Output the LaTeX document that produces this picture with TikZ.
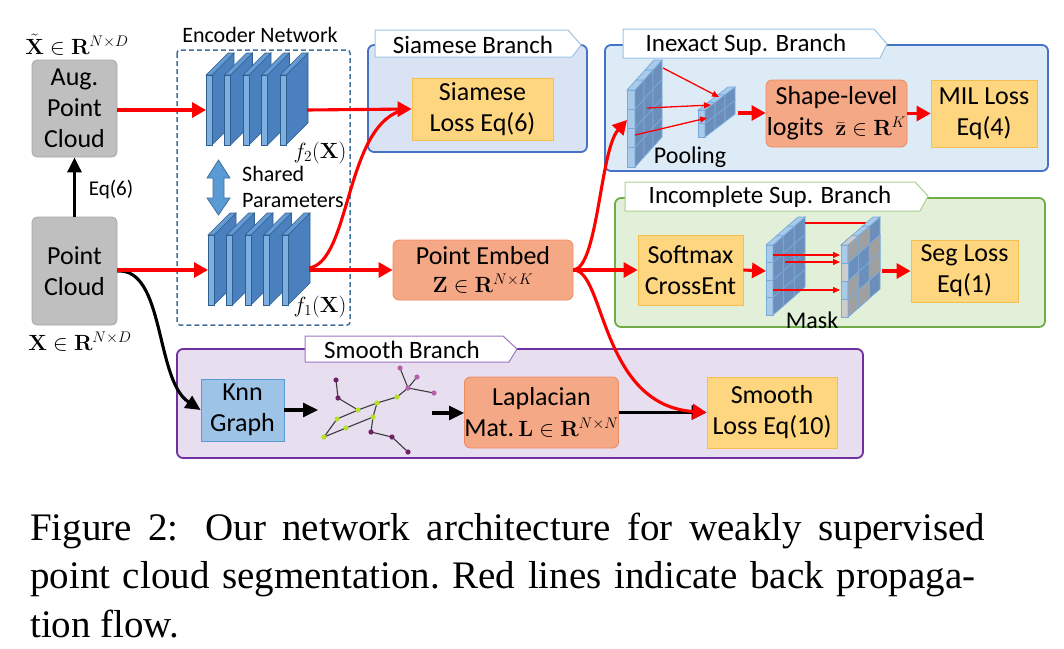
\RequirePackage{fix-cm}
\documentclass[tikz,border=0pt]{standalone}
\usepackage[no-math]{fontspec}
\setmainfont{Carlito}
\newfontfamily\capfont{Liberation Serif}
\usetikzlibrary{arrows.meta}
\definecolor{cred}{RGB}{255,0,0}
\definecolor{cgray}{RGB}{191,191,191}
\definecolor{cgrayd}{RGB}{166,166,166}
\definecolor{cyel}{RGB}{255,214,128}
\definecolor{cyeld}{RGB}{245,190,80}
\definecolor{csal}{RGB}{245,168,134}
\definecolor{csald}{RGB}{237,139,95}
\definecolor{cknn}{RGB}{157,195,230}
\definecolor{cknnd}{RGB}{91,155,213}
\definecolor{encd}{RGB}{65,113,156}
\definecolor{siamf}{RGB}{218,227,243}
\definecolor{bluep}{RGB}{68,114,196}
\definecolor{inexf}{RGB}{221,235,247}
\definecolor{incf}{RGB}{226,240,217}
\definecolor{incd}{RGB}{112,173,71}
\definecolor{smf}{RGB}{231,222,239}
\definecolor{smd}{RGB}{112,48,160}
\definecolor{tabblue}{RGB}{157,195,230}
\definecolor{tabgreen}{RGB}{169,209,142}
\definecolor{tabpurple}{RGB}{158,117,194}
\definecolor{slabfront}{RGB}{125,175,225}
\definecolor{slabtop}{RGB}{100,155,212}
\definecolor{slabside}{RGB}{74,128,190}
\definecolor{slabedge}{RGB}{47,95,143}
\definecolor{gfront}{RGB}{168,203,234}
\definecolor{gside}{RGB}{108,142,186}
\definecolor{gridln}{RGB}{120,170,220}
\definecolor{grfront}{RGB}{205,205,205}
\definecolor{grside}{RGB}{160,160,160}
\definecolor{gpurple}{RGB}{110,35,100}
\definecolor{gpink}{RGB}{180,95,170}
\definecolor{ggreen}{RGB}{180,225,40}
\definecolor{gedge}{RGB}{60,60,60}

\def\setgrid#1#2#3#4#5#6#7#8{%
 \def\Gx{#1}\def\Gty{#2}\def\Gby{#3}\def\Gw{#4}\def\Gdx{#5}\def\Gdy{#6}\def\Gn{#7}\def\Gm{#8}%
 \pgfmathsetmacro\Gh{(#3-#2)/#7}%
 \pgfmathtruncatemacro\Gnm{#7-1}\pgfmathtruncatemacro\Gmm{#8-1}}
\def\sidecell#1#2#3{\filldraw[fill=#3,draw=gridln,line width=0.7pt]
 ({\Gx+\Gw+(#2)*(\Gdx)/\Gm},{\Gty+(#1)*\Gh+(#2)*(\Gdy)/\Gm}) --
 ({\Gx+\Gw+(#2+1)*(\Gdx)/\Gm},{\Gty+(#1)*\Gh+(#2+1)*(\Gdy)/\Gm}) --
 ({\Gx+\Gw+(#2+1)*(\Gdx)/\Gm},{\Gty+(#1+1)*\Gh+(#2+1)*(\Gdy)/\Gm}) --
 ({\Gx+\Gw+(#2)*(\Gdx)/\Gm},{\Gty+(#1+1)*\Gh+(#2)*(\Gdy)/\Gm}) -- cycle;}
\def\frontcell#1#2{\filldraw[fill=#2,draw=gridln,line width=0.7pt]
 ({\Gx},{\Gty+(#1)*\Gh}) rectangle ({\Gx+\Gw},{\Gty+(#1+1)*\Gh});}
\def\topcell#1#2{\filldraw[fill=#2,draw=gridln,line width=0.7pt]
 ({\Gx+(#1)*(\Gdx)/\Gm},{\Gty+(#1)*(\Gdy)/\Gm}) --
 ({\Gx+\Gw+(#1)*(\Gdx)/\Gm},{\Gty+(#1)*(\Gdy)/\Gm}) --
 ({\Gx+\Gw+(#1+1)*(\Gdx)/\Gm},{\Gty+(#1+1)*(\Gdy)/\Gm}) --
 ({\Gx+(#1+1)*(\Gdx)/\Gm},{\Gty+(#1+1)*(\Gdy)/\Gm}) -- cycle;}
\def\drawgrid{\foreach \rr in {0,...,\Gnm}{\frontcell{\rr}{gfront}
  \foreach \cc in {0,...,\Gmm}{\sidecell{\rr}{\cc}{gside}}}
 \foreach \cc in {0,...,\Gmm}{\topcell{\cc}{gfront}}}
\def\slab#1#2{%
 \filldraw[fill=slabside,draw=slabedge,line width=0.6pt] (#1+6,#2) -- (#1+28,#2-22) -- (#1+28,#2+48) -- (#1+6,#2+70) -- cycle;
 \filldraw[fill=slabtop,draw=slabedge,line width=0.6pt] (#1,#2) -- (#1+6,#2) -- (#1+28,#2-22) -- (#1+22,#2-22) -- cycle;
 \filldraw[fill=slabfront,draw=slabedge,line width=0.6pt] (#1,#2) rectangle (#1+6,#2+70);}

\begin{document}
\begin{tikzpicture}[x=1pt,y=-1pt,
  box/.style={draw, inner sep=0pt, align=center, font=\fontsize{26}{31}\selectfont, line width=0.8pt},
  graybox/.style={box, fill=cgray, draw=cgrayd, rounded corners=5pt},
  ybox/.style={box, fill=cyel, draw=cyeld},
  sbox/.style={box, fill=csal, draw=csald, rounded corners=6pt},
  kbox/.style={box, fill=cknn, draw=cknnd},
  panel/.style={line width=1.8pt, rounded corners=6pt},
  tabshape/.style={fill=white, line width=1pt},
  tabtext/.style={font=\fontsize{25}{30}\selectfont, inner sep=0pt},
  mlabel/.style={font=\fontsize{22}{26}\selectfont, inner sep=0pt},
  redline/.style={draw=cred, line width=3.1pt},
  redarrow/.style={redline, -{Triangle[length=14pt,width=15pt]}},
  blkarrow/.style={draw=black, line width=3.1pt, -{Triangle[length=15pt,width=14pt]}},
  thinred/.style={draw=cred, line width=1.3pt, -{Triangle[length=7pt,width=6pt]}},
  captext/.style={anchor=base west, inner sep=0pt, font=\capfont\fontsize{39}{48}\selectfont},
]
\useasboundingbox (0,0) rectangle (1064,648);

% ---------- panels ----------
\draw[panel, fill=siamf, draw=bluep] (368,45) rectangle (587,152);
\draw[panel, fill=inexf, draw=bluep] (605,45) rectangle (1048,171);
\draw[panel, fill=incf, draw=incd] (615,198) rectangle (1045,327);
\draw[panel, fill=smf, draw=smd] (177,349) rectangle (863,458);
\draw[tabshape, draw=tabblue] (375,30) -- (568,30) -- (581,45) -- (572,57) -- (375,57) -- cycle;
\draw[tabshape, draw=tabblue] (623,29) -- (874,29) -- (887,44) -- (880,58) -- (623,58) -- cycle;
\draw[tabshape, draw=tabgreen] (625,182) -- (915,182) -- (928,196) -- (920,211) -- (625,211) -- cycle;
\draw[tabshape, draw=tabpurple] (305,336) -- (503,336) -- (517,349) -- (509,362) -- (305,362) -- cycle;
\node[tabtext] (tsiam) at (473,45) {Siamese Branch};
\node[tabtext] (tinex) at (746,45) {Inexact Sup. Branch};
\node[tabtext] (tinc) at (770,197) {Incomplete Sup. Branch};
\node[tabtext] (tsm) at (402,350) {Smooth Branch};

% ---------- encoder ----------
\draw[encd, dashed, dash pattern=on 5pt off 3pt, line width=1.5pt, rounded corners=3pt] (177,50) rectangle (350,325);
\node[font=\fontsize{22}{26}\selectfont, inner sep=0pt] (enctitle) at (260,35) {Encoder Network};
\foreach \i in {0,...,4}{\pgfmathsetmacro\xo{206+\i*18.5}\slab{\xo}{75}}
\foreach \i in {0,...,4}{\pgfmathsetmacro\xo{208+\i*18.5}\slab{\xo}{235}}
\node[mlabel] (f2) at (320,153) {$f_2(\mathbf{X})$};
\node[mlabel] (f1) at (320,307) {$f_1(\mathbf{X})$};
\filldraw[fill=cknnd, draw=encd, line width=0.8pt] (218.5,160) -- (230,178) -- (224,178) -- (224,198) -- (230,198) -- (218.5,215) -- (207,198) -- (213,198) -- (213,178) -- (207,178) -- cycle;
\node[font=\fontsize{22}{26}\selectfont, inner sep=0pt, align=left, anchor=west] (shared) at (242,187) {Shared\\Parameters};
\coordinate (enc2in) at (206,110);
\coordinate (enc2out) at (307,110);
\coordinate (enc1in) at (208,270);
\coordinate (enc1out) at (309,268);

% ---------- left boxes ----------
\node[graybox, minimum width=85pt, minimum height=97pt] (aug) at (74.5,108.5) {Aug.\\Point\\Cloud};
\node[graybox, minimum width=85pt, minimum height=108pt] (pc) at (74.5,271) {Point\\Cloud};
\node[mlabel] (xt) at (77,45) {$\tilde{\mathbf{X}}\in\mathbf{R}^{N\times D}$};
\node[mlabel] (xl) at (80,342) {$\mathbf{X}\in\mathbf{R}^{N\times D}$};
\draw[blkarrow] (pc.north) -- (aug.south);
\node[font=\fontsize{21}{25}\selectfont, inner sep=0pt] (eq6) at (111,190) {Eq(6)};

% ---------- boxes ----------
\node[ybox, minimum width=141pt, minimum height=62pt] (siam) at (482.5,109) {Siamese\\Loss Eq(6)};
\node[sbox, minimum width=180pt, minimum height=60pt] (pe) at (483,270) {Point Embed\\[-3pt]{\fontsize{22}{24}\selectfont$\mathbf{Z}\in\mathbf{R}^{N\times K}$}};
\node[sbox, minimum width=141pt, minimum height=67pt] (shape) at (836.5,113.5) {Shape-level\\logits\ \ {\fontsize{22}{24}\selectfont$\bar{\mathbf{z}}\in\mathbf{R}^{K}$}};
\node[ybox, minimum width=106pt, minimum height=67pt] (mil) at (984,113.5) {MIL Loss\\Eq(4)};
\node[ybox, minimum width=105pt, minimum height=70pt] (soft) at (690.5,270) {Softmax\\CrossEnt};
\node[ybox, minimum width=107pt, minimum height=62pt] (seg) at (964.5,271) {Seg Loss\\Eq(1)};
\node[kbox, minimum width=83pt, minimum height=62pt] (knn) at (242.5,410) {Knn\\Graph};
\node[sbox, minimum width=147pt, minimum height=71pt] (lap) at (541.5,412.5) {Laplacian\\Mat.\,{\fontsize{22}{24}\selectfont$\mathbf{L}\in\mathbf{R}^{N\times N}$}};
\node[ybox, minimum width=130pt, minimum height=71pt] (smooth) at (772,412.5) {Smooth\\Loss Eq(10)};

% ---------- pooling grids ----------
\setgrid{627}{90}{167}{8}{27}{-30}{4}{3}\drawgrid
\setgrid{698}{110}{137}{7}{30}{-23}{2}{3}\drawgrid
\node[font=\fontsize{24}{28}\selectfont, inner sep=0pt] (pool) at (690,157) {Pooling};
\coordinate (poolin) at (627,120);
\coordinate (poolout) at (738,113);
\coordinate (pa1) at (663,68);  \coordinate (pb1) at (719,97);
\coordinate (pa2) at (647,108); \coordinate (pb2) at (711,105);
\coordinate (pa3) at (635,135); \coordinate (pb3) at (707,118);
\draw[thinred] (pa1) -- (pb1);
\draw[thinred] (pa2) -- (pb2);
\draw[thinred] (pa3) -- (pb3);

% ---------- mask grids ----------
\setgrid{766}{245}{315}{7}{32}{-28}{4}{3}\drawgrid
\coordinate (ma0) at (805,223); \coordinate (mb0) at (867,223);
\coordinate (ma1) at (773,255); \coordinate (mb1) at (840,255);
\coordinate (ma2) at (785,262); \coordinate (mb2) at (840,262);
\coordinate (ma3) at (773,290); \coordinate (mb3) at (840,290);
\draw[draw=cred, line width=1.3pt] (ma0) -- (mb0);
\setgrid{841}{245}{317}{7}{32}{-28}{4}{3}\drawgrid
\frontcell{1}{grfront}\frontcell{3}{grfront}
\sidecell{0}{0}{grside}\sidecell{0}{1}{grside}
\sidecell{1}{2}{grside}
\sidecell{2}{0}{grside}\sidecell{2}{2}{grside}
\sidecell{3}{0}{grside}\sidecell{3}{1}{grside}
\topcell{0}{grfront}
\draw[thinred] (ma1) -- (mb1);
\draw[thinred] (ma2) -- (mb2);
\draw[thinred] (ma3) -- (mb3);
\node[font=\fontsize{24}{28}\selectfont, inner sep=0pt] (mask) at (812,320) {Mask};
\coordinate (maskin) at (766,271);
\coordinate (maskout) at (882,271);

% ---------- knn graph drawing ----------
\coordinate (g1) at (336,380); \coordinate (g2) at (338,398); \coordinate (g3) at (358,410);
\coordinate (g4) at (377,403); \coordinate (g5) at (397,397); \coordinate (g6) at (408,388);
\coordinate (g7) at (400,368); \coordinate (g8) at (417,377); \coordinate (g9) at (434,393);
\coordinate (g10) at (337,419); \coordinate (g11) at (324,437); \coordinate (g12) at (346,428);
\coordinate (g13) at (373,417); \coordinate (g14) at (371,432); \coordinate (g15) at (392,437);
\coordinate (g16) at (408,452);
\foreach \a/\b in {g1/g2,g2/g3,g3/g4,g4/g5,g5/g6,g6/g7,g6/g8,g6/g9,g3/g10,g10/g11,g11/g12,g12/g13,g13/g4,g13/g14,g14/g15,g15/g16}
  \draw[gedge, line width=1.1pt] (\a) -- (\b);
\foreach \g in {g3,g4,g5,g10,g11,g12,g13} \fill[ggreen] (\g) circle (2.6pt);
\foreach \g in {g1,g2,g14,g15,g16} \fill[gpurple] (\g) circle (2.6pt);
\foreach \g in {g6,g7,g8,g9} \fill[gpink] (\g) circle (2.6pt);
\coordinate (grin) at (318,410);
\coordinate (grout) at (432,413);

% ---------- connectors ----------
\draw[blkarrow] (pc.east) .. controls (165,268) and (155,380) .. (knn.west);
\draw[blkarrow] (knn.east) -- (grin);
\draw[blkarrow] (grout) -- (lap.west |- grout);
\draw[blkarrow] (lap.east) -- (smooth.west);

\coordinate (siamjoin) at (400,111);
\draw[redarrow] (aug.east |- enc2in) -- (enc2in);
\draw[redarrow] (pc.east |- enc1in) -- (enc1in);
\draw[redline] (enc1out) .. controls (350,262) and (345,130) .. (siamjoin);
\draw[redarrow] (enc2out) -- (siam.west);
\draw[redarrow] (enc1out |- pe.west) -- (pe.west);
\draw[redarrow] (pe.east) .. controls (598,268) and (600,150) .. (poolin);
\draw[redarrow] (pe.east) -- (soft.west);
\draw[redarrow] (pe.east) .. controls (605,270) and (600,405) .. (smooth.west);
\draw[redarrow] (poolout) -- (shape.west |- poolout);
\draw[redarrow] (shape.east) -- (mil.west);
\draw[redarrow] (soft.east) -- (maskin);
\draw[redarrow] (maskout) -- (seg.west |- maskout);

% ---------- caption ----------
\node[captext] (cap1) at (30,540) {\makebox[955pt][s]{Figure 2: Our network architecture for weakly supervised}};
\node[captext] (cap2) at (30,588) {\frenchspacing\makebox[945pt][s]{point cloud segmentation. Red lines indicate back propaga-}};
\node[captext] (cap3) at (30,637) {tion flow.};
\end{tikzpicture}
\end{document}
